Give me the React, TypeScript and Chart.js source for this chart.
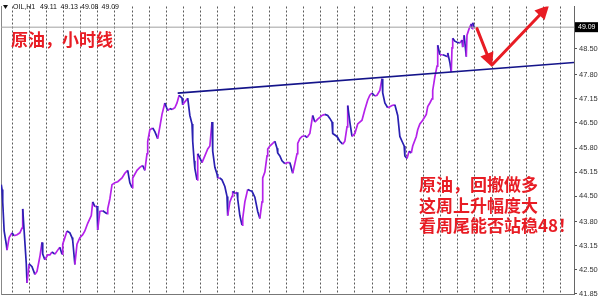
import { useEffect, useRef } from "react";
import { Chart, registerables } from "chart.js";

Chart.register(...registerables);

// Hour offsets (from the first grid day) and closing prices of the OIL H1 series
const HOURS = [-15,-14,-13,-11,-8,-7,-4,0,3,7,11,14,15,17,20,21,24,28,32,35,39,42,43,46,50,53,56,60,64,67,70,71,74,77,81,84,85,88,91,95,99,102,106,111,113,116,119,120,123,127,133,134,137,140,144,148,154,158,162,165,168,169,175,179,183,186,189,190,193,197,200,204,207,210,214,218,221,224,228,231,234,238,239,242,246,249,252,253,255,256,259,260,263,266,270,274,277,280,281,284,287,288,291,294,298,301,302,305,308,309,312,315,316,319,322,323,326,330,333,336,340,344,347,350,351,354,357,358,361,365,368,371,372,375,378,382,385,389,393,396,399,400,403,406,410,413,417,421,424,428,431,434,438,442,445,448,449,455,459,463,466,469,470,473,476,480,484,490,494,498,501,504,508,511,515,518,519,522,526,529,532,536,540,543,546,549,550,553,556,559,561,566,568,571,575,580,582,585,588,589,592,595,596,599,603,606,609,610,613,615,616,617,620,623,627,630,631,633,636,637,640,643,644,645,647];
const CLOSES = [44.81,44.68,44.34,43.55,43.19,43.03,43.37,43.50,43.42,43.45,43.50,43.63,44.15,43.55,42.66,42.14,42.66,42.58,42.37,42.45,42.85,43.24,42.92,42.77,42.90,42.90,42.98,42.92,43.03,43.11,42.92,43.19,43.37,43.55,43.50,43.37,43.29,42.64,43.19,43.37,43.45,43.55,43.76,43.97,44.34,44.21,44.23,43.58,44.08,44.10,44.02,44.15,44.42,44.81,44.86,44.89,44.99,45.12,45.20,44.86,44.73,44.99,45.20,45.28,45.33,45.20,45.65,45.99,46.30,46.35,46.25,46.06,46.38,46.72,47.03,46.82,46.88,46.85,46.90,47.03,47.24,47.16,46.98,47.06,47.16,46.69,46.46,45.99,45.46,45.25,44.94,45.65,45.54,45.41,45.59,45.78,45.86,46.51,45.72,45.28,45.10,44.99,44.99,44.94,44.76,44.49,43.97,44.34,44.49,44.63,44.57,44.60,44.42,43.97,43.71,43.89,44.34,44.68,44.65,44.63,44.47,44.08,43.89,44.34,44.99,45.15,45.59,45.78,45.86,45.93,45.99,45.80,45.67,45.59,45.46,45.38,45.41,45.41,45.12,45.38,45.65,45.93,46.06,46.12,46.14,46.09,46.20,46.69,46.51,46.59,46.64,46.69,46.72,46.69,46.61,46.51,46.20,46.12,45.99,45.91,45.99,46.38,46.96,46.51,46.12,46.20,46.46,46.56,46.85,47.11,47.24,47.30,47.22,47.24,47.37,47.69,47.30,47.03,46.90,46.93,46.96,46.98,46.69,46.12,45.99,45.86,45.59,45.52,45.72,45.67,45.86,46.12,46.30,46.46,46.56,46.72,46.93,47.03,47.14,47.37,47.74,48.03,48.60,48.34,48.34,48.32,48.29,48.39,48.13,47.87,48.53,48.79,48.71,48.68,48.66,48.74,48.55,48.87,48.29,48.87,49.05,49.18,49.05,49.21,49.09];

// Price scale
const Y_MIN = 41.824;
const Y_MAX = 49.652;
const Y_TICKS = [41.85, 42.5, 43.15, 43.8, 44.5, 45.15, 45.8, 46.5, 47.15, 47.8, 48.5];
// Time scale (hours); one dotted grid line per day
const X_MIN = -15.4;
const X_MAX = 786.8;
const DAY_HOURS = 24;

// Header quote: open, high, low, close of the last bar
const SYMBOL = "OIL,H1";
const QUOTE = ["49.11", "49.13", "49.08", "49.09"];
const LAST_PRICE = 49.09;

// Blue trend line across the two swing highs
const TREND_X = [232, 786.8];
const TREND_Y = [47.3, 48.13];

// Red arrows: pull-back, then push higher
const ARROW_FROM_X = [651, 673];
const ARROW_FROM_Y = [49.05, 48.08];
const ARROW_TO_X = [672, 752];
const ARROW_TO_Y = [48.01, 49.69];

const TITLE = "原油，小时线";
const NOTE_LINES = ["原油，回撤做多", "这周上升幅度大", "看周尾能否站稳48！"];

const UP = "#b522ea";
const DOWN = "#2a20b2";
const RED = "#e81c24";

const overlay = {
  id: "overlay",
  afterDatasetsDraw(chart: any) {
    const { ctx, chartArea, scales } = chart;
    const x = scales.x;
    const y = scales.y;
    ctx.save();
    ctx.beginPath();
    ctx.rect(chartArea.left, chartArea.top, chartArea.right - chartArea.left, chartArea.bottom - chartArea.top);
    ctx.clip();
    ctx.strokeStyle = RED;
    ctx.fillStyle = RED;
    ctx.lineWidth = 3;
    ctx.lineCap = "round";
    for (let i = 0; i < ARROW_FROM_X.length; i++) {
      const x0 = x.getPixelForValue(ARROW_FROM_X[i]);
      const y0 = y.getPixelForValue(ARROW_FROM_Y[i]);
      const x1 = x.getPixelForValue(ARROW_TO_X[i]);
      const y1 = y.getPixelForValue(ARROW_TO_Y[i]);
      const len = Math.hypot(x1 - x0, y1 - y0);
      const ux = (x1 - x0) / len;
      const uy = (y1 - y0) / len;
      const head = 14;
      const half = 7;
      ctx.beginPath();
      ctx.moveTo(x0, y0);
      ctx.lineTo(x1 - ux * head * 0.7, y1 - uy * head * 0.7);
      ctx.stroke();
      const bx = x1 - ux * head;
      const by = y1 - uy * head;
      ctx.beginPath();
      ctx.moveTo(x1, y1);
      ctx.lineTo(bx - uy * half, by + ux * half);
      ctx.lineTo(bx + uy * half, by - ux * half);
      ctx.closePath();
      ctx.fill();
    }
    ctx.restore();
  },
  afterDraw(chart: any) {
    const { ctx, chartArea, scales } = chart;
    const y = scales.y;
    ctx.save();
    // header line
    ctx.fillStyle = "#111";
    ctx.beginPath();
    ctx.moveTo(3, 5);
    ctx.lineTo(8, 5);
    ctx.lineTo(5.5, 9);
    ctx.closePath();
    ctx.fill();
    ctx.font = "7px 'Liberation Sans'";
    ctx.textBaseline = "middle";
    ctx.textAlign = "left";
    ctx.fillText(SYMBOL, 13, 7.5);
    let hx = 40;
    for (const q of QUOTE) {
      ctx.fillText(q, hx, 7.5);
      hx += 20.5;
    }
    // last price box on the axis
    const py = y.getPixelForValue(LAST_PRICE);
    ctx.fillStyle = "#000";
    ctx.fillRect(chartArea.right + 1, py - 5, 23, 10);
    ctx.fillStyle = "#fff";
    ctx.fillText(LAST_PRICE.toFixed(2), chartArea.right + 4, py);
    // annotations
    ctx.fillStyle = RED;
    ctx.font = "bold 17px 'Noto Sans CJK SC'";
    ctx.fillText(TITLE, 11, 40);
    NOTE_LINES.forEach((line, i) => {
      ctx.fillText(line, 419, 185 + i * 20.5);
    });
    ctx.restore();
  },
};

export default function App() {
  const ref = useRef<HTMLCanvasElement | null>(null);

  useEffect(() => {
    document.body.style.margin = "0";
    const canvas = ref.current;
    if (!canvas) return;
    const n = Math.min(HOURS.length, CLOSES.length);
    const priceData = [];
    for (let i = 0; i < n; i++) priceData.push({ x: HOURS[i], y: CLOSES[i] });

    const chart = new Chart(canvas, {
      type: "line",
      data: {
        datasets: [
          {
            label: "bid",
            data: [
              { x: X_MIN, y: LAST_PRICE },
              { x: X_MAX, y: LAST_PRICE },
            ],
            borderColor: "#a0a0a0",
            borderWidth: 1,
            pointRadius: 0,
          },
          {
            label: "trend",
            data: TREND_X.map((v, i) => ({ x: v, y: TREND_Y[i] })),
            borderColor: "#14148a",
            borderWidth: 1.7,
            pointRadius: 0,
          },
          {
            label: "OIL",
            data: priceData,
            borderWidth: 1.7,
            pointRadius: 0,
            tension: 0,
            borderColor: UP,
            segment: {
              borderColor: (c: any) => (c.p1.parsed.y >= c.p0.parsed.y ? UP : DOWN),
            },
          },
        ],
      },
      options: {
        animation: false,
        responsive: false,
        events: [],
        layout: { padding: { left: 0, right: 0, top: 0, bottom: 1 } },
        plugins: { legend: { display: false }, tooltip: { enabled: false } },
        scales: {
          x: {
            type: "linear",
            min: X_MIN,
            max: X_MAX,
            ticks: { display: false, stepSize: DAY_HOURS, includeBounds: false },
            grid: { color: "#5a5a5a", lineWidth: 1, drawTicks: false },
            border: { display: true, color: "#777", width: 1, dash: [2, 2] },
            afterFit: (s: any) => {
              s.height = 1;
            },
          },
          y: {
            type: "linear",
            position: "right",
            min: Y_MIN,
            max: Y_MAX,
            afterBuildTicks: (s: any) => {
              s.ticks = Y_TICKS.map((v) => ({ value: v }));
            },
            ticks: {
              color: "#333",
              font: { family: "'Liberation Sans'", size: 7.5 },
              padding: 2,
              callback: (v: any) => Number(v).toFixed(2),
            },
            grid: { drawOnChartArea: false, tickLength: 3, color: "#555" },
            border: { display: true, color: "#666", width: 1 },
            afterFit: (s: any) => {
              s.width = 26;
            },
          },
          yl: {
            type: "linear",
            position: "left",
            min: 0,
            max: 1,
            ticks: { display: false },
            grid: { display: false },
            border: { display: true, color: "#888", width: 1 },
            afterFit: (s: any) => {
              s.width = 1;
            },
          },
        },
      },
      plugins: [overlay],
    });
    return () => chart.destroy();
  }, []);

  return <canvas ref={ref} width={600} height={301} style={{ display: "block" }} />;
}
